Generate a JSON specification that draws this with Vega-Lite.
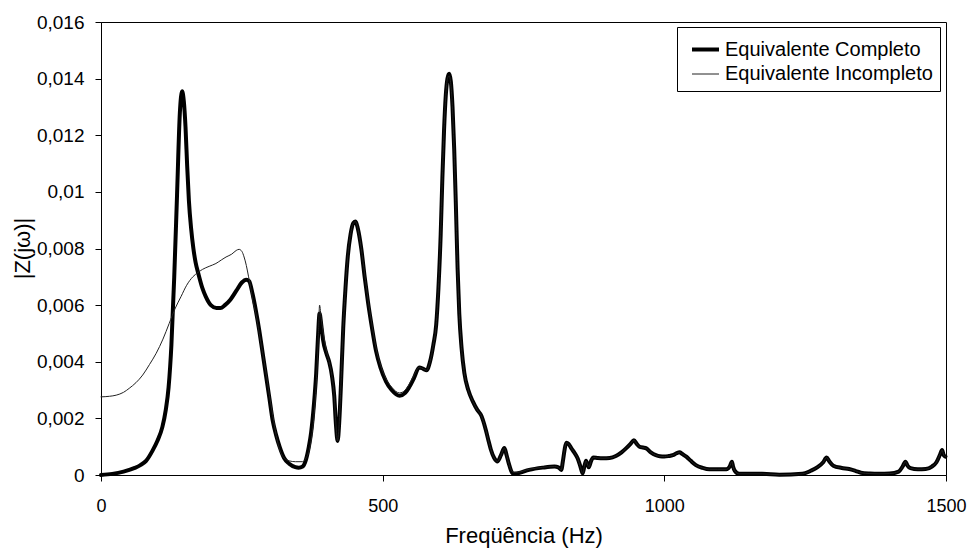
{
  "$schema": "https://vega.github.io/schema/vega-lite/v6.json",
  "width": 845,
  "height": 453,
  "autosize": {"type": "none"},
  "padding": {"left": 101, "top": 22, "right": 29, "bottom": 73},
  "background": "white",
  "config": {"view": {"stroke": "black", "strokeWidth": 1}, "font": "Liberation Sans"},
  "data": {"values": [
    {"f": 0, "z": 0, "s": "Equivalente Completo"},
    {"f": 20, "z": 0.00004, "s": "Equivalente Completo"},
    {"f": 40, "z": 0.00012, "s": "Equivalente Completo"},
    {"f": 60, "z": 0.00025, "s": "Equivalente Completo"},
    {"f": 70, "z": 0.00035, "s": "Equivalente Completo"},
    {"f": 80, "z": 0.0005, "s": "Equivalente Completo"},
    {"f": 92, "z": 0.00088, "s": "Equivalente Completo"},
    {"f": 100, "z": 0.0012, "s": "Equivalente Completo"},
    {"f": 109, "z": 0.0017, "s": "Equivalente Completo"},
    {"f": 115, "z": 0.0023, "s": "Equivalente Completo"},
    {"f": 120, "z": 0.0031, "s": "Equivalente Completo"},
    {"f": 125, "z": 0.0046, "s": "Equivalente Completo"},
    {"f": 130, "z": 0.007, "s": "Equivalente Completo"},
    {"f": 135, "z": 0.0099, "s": "Equivalente Completo"},
    {"f": 140, "z": 0.0128, "s": "Equivalente Completo"},
    {"f": 144, "z": 0.01355, "s": "Equivalente Completo"},
    {"f": 147, "z": 0.0132, "s": "Equivalente Completo"},
    {"f": 150, "z": 0.0123, "s": "Equivalente Completo"},
    {"f": 153, "z": 0.0109, "s": "Equivalente Completo"},
    {"f": 156, "z": 0.0097, "s": "Equivalente Completo"},
    {"f": 160, "z": 0.0087, "s": "Equivalente Completo"},
    {"f": 164, "z": 0.008, "s": "Equivalente Completo"},
    {"f": 168, "z": 0.0075, "s": "Equivalente Completo"},
    {"f": 173, "z": 0.0071, "s": "Equivalente Completo"},
    {"f": 180, "z": 0.0066, "s": "Equivalente Completo"},
    {"f": 186, "z": 0.0063, "s": "Equivalente Completo"},
    {"f": 195, "z": 0.006, "s": "Equivalente Completo"},
    {"f": 205, "z": 0.0059, "s": "Equivalente Completo"},
    {"f": 212, "z": 0.0059, "s": "Equivalente Completo"},
    {"f": 220, "z": 0.006, "s": "Equivalente Completo"},
    {"f": 230, "z": 0.0062, "s": "Equivalente Completo"},
    {"f": 240, "z": 0.0065, "s": "Equivalente Completo"},
    {"f": 250, "z": 0.0068, "s": "Equivalente Completo"},
    {"f": 258, "z": 0.0069, "s": "Equivalente Completo"},
    {"f": 263, "z": 0.00685, "s": "Equivalente Completo"},
    {"f": 269, "z": 0.0064, "s": "Equivalente Completo"},
    {"f": 275, "z": 0.0058, "s": "Equivalente Completo"},
    {"f": 281, "z": 0.0051, "s": "Equivalente Completo"},
    {"f": 287, "z": 0.0043, "s": "Equivalente Completo"},
    {"f": 293, "z": 0.0035, "s": "Equivalente Completo"},
    {"f": 299, "z": 0.0027, "s": "Equivalente Completo"},
    {"f": 305, "z": 0.0019, "s": "Equivalente Completo"},
    {"f": 311, "z": 0.0014, "s": "Equivalente Completo"},
    {"f": 317, "z": 0.001, "s": "Equivalente Completo"},
    {"f": 325, "z": 0.0006, "s": "Equivalente Completo"},
    {"f": 334, "z": 0.0004, "s": "Equivalente Completo"},
    {"f": 345, "z": 0.00028, "s": "Equivalente Completo"},
    {"f": 351, "z": 0.00026, "s": "Equivalente Completo"},
    {"f": 358, "z": 0.0003, "s": "Equivalente Completo"},
    {"f": 364, "z": 0.00055, "s": "Equivalente Completo"},
    {"f": 369, "z": 0.001, "s": "Equivalente Completo"},
    {"f": 373, "z": 0.0015, "s": "Equivalente Completo"},
    {"f": 378, "z": 0.0025, "s": "Equivalente Completo"},
    {"f": 382, "z": 0.0036, "s": "Equivalente Completo"},
    {"f": 385, "z": 0.0048, "s": "Equivalente Completo"},
    {"f": 388, "z": 0.0057, "s": "Equivalente Completo"},
    {"f": 391, "z": 0.0053, "s": "Equivalente Completo"},
    {"f": 394, "z": 0.0048, "s": "Equivalente Completo"},
    {"f": 400, "z": 0.0043, "s": "Equivalente Completo"},
    {"f": 405, "z": 0.004, "s": "Equivalente Completo"},
    {"f": 410, "z": 0.0035, "s": "Equivalente Completo"},
    {"f": 414, "z": 0.0028, "s": "Equivalente Completo"},
    {"f": 417, "z": 0.0018, "s": "Equivalente Completo"},
    {"f": 420, "z": 0.0012, "s": "Equivalente Completo"},
    {"f": 423, "z": 0.0019, "s": "Equivalente Completo"},
    {"f": 426, "z": 0.0032, "s": "Equivalente Completo"},
    {"f": 430, "z": 0.0052, "s": "Equivalente Completo"},
    {"f": 434, "z": 0.0066, "s": "Equivalente Completo"},
    {"f": 438, "z": 0.0077, "s": "Equivalente Completo"},
    {"f": 443, "z": 0.0085, "s": "Equivalente Completo"},
    {"f": 448, "z": 0.0089, "s": "Equivalente Completo"},
    {"f": 452, "z": 0.00895, "s": "Equivalente Completo"},
    {"f": 456, "z": 0.0087, "s": "Equivalente Completo"},
    {"f": 462, "z": 0.008, "s": "Equivalente Completo"},
    {"f": 468, "z": 0.007, "s": "Equivalente Completo"},
    {"f": 474, "z": 0.0061, "s": "Equivalente Completo"},
    {"f": 481, "z": 0.0052, "s": "Equivalente Completo"},
    {"f": 488, "z": 0.0044, "s": "Equivalente Completo"},
    {"f": 496, "z": 0.0038, "s": "Equivalente Completo"},
    {"f": 506, "z": 0.0033, "s": "Equivalente Completo"},
    {"f": 516, "z": 0.003, "s": "Equivalente Completo"},
    {"f": 530, "z": 0.0028, "s": "Equivalente Completo"},
    {"f": 540, "z": 0.0029, "s": "Equivalente Completo"},
    {"f": 547, "z": 0.0031, "s": "Equivalente Completo"},
    {"f": 555, "z": 0.0034, "s": "Equivalente Completo"},
    {"f": 565, "z": 0.0038, "s": "Equivalente Completo"},
    {"f": 572, "z": 0.00375, "s": "Equivalente Completo"},
    {"f": 578, "z": 0.0037, "s": "Equivalente Completo"},
    {"f": 584, "z": 0.004, "s": "Equivalente Completo"},
    {"f": 590, "z": 0.0046, "s": "Equivalente Completo"},
    {"f": 595, "z": 0.0053, "s": "Equivalente Completo"},
    {"f": 599, "z": 0.0066, "s": "Equivalente Completo"},
    {"f": 603, "z": 0.0085, "s": "Equivalente Completo"},
    {"f": 606, "z": 0.0105, "s": "Equivalente Completo"},
    {"f": 609, "z": 0.0122, "s": "Equivalente Completo"},
    {"f": 612, "z": 0.0134, "s": "Equivalente Completo"},
    {"f": 615, "z": 0.014, "s": "Equivalente Completo"},
    {"f": 618, "z": 0.01417, "s": "Equivalente Completo"},
    {"f": 621, "z": 0.0139, "s": "Equivalente Completo"},
    {"f": 624, "z": 0.013, "s": "Equivalente Completo"},
    {"f": 627, "z": 0.0115, "s": "Equivalente Completo"},
    {"f": 630, "z": 0.0095, "s": "Equivalente Completo"},
    {"f": 633, "z": 0.0073, "s": "Equivalente Completo"},
    {"f": 636, "z": 0.0057, "s": "Equivalente Completo"},
    {"f": 640, "z": 0.0045, "s": "Equivalente Completo"},
    {"f": 645, "z": 0.0036, "s": "Equivalente Completo"},
    {"f": 652, "z": 0.003, "s": "Equivalente Completo"},
    {"f": 660, "z": 0.0026, "s": "Equivalente Completo"},
    {"f": 668, "z": 0.0023, "s": "Equivalente Completo"},
    {"f": 675, "z": 0.0021, "s": "Equivalente Completo"},
    {"f": 683, "z": 0.0016, "s": "Equivalente Completo"},
    {"f": 688, "z": 0.0012, "s": "Equivalente Completo"},
    {"f": 692, "z": 0.0009, "s": "Equivalente Completo"},
    {"f": 698, "z": 0.0006, "s": "Equivalente Completo"},
    {"f": 704, "z": 0.00048, "s": "Equivalente Completo"},
    {"f": 710, "z": 0.0007, "s": "Equivalente Completo"},
    {"f": 716, "z": 0.00095, "s": "Equivalente Completo"},
    {"f": 720, "z": 0.0007, "s": "Equivalente Completo"},
    {"f": 724, "z": 0.0004, "s": "Equivalente Completo"},
    {"f": 728, "z": 0.00015, "s": "Equivalente Completo"},
    {"f": 732, "z": 0.00004, "s": "Equivalente Completo"},
    {"f": 740, "z": 0.00006, "s": "Equivalente Completo"},
    {"f": 760, "z": 0.00018, "s": "Equivalente Completo"},
    {"f": 784, "z": 0.00026, "s": "Equivalente Completo"},
    {"f": 805, "z": 0.0003, "s": "Equivalente Completo"},
    {"f": 812, "z": 0.00027, "s": "Equivalente Completo"},
    {"f": 817, "z": 0.00018, "s": "Equivalente Completo"},
    {"f": 820, "z": 0.0005, "s": "Equivalente Completo"},
    {"f": 823, "z": 0.0009, "s": "Equivalente Completo"},
    {"f": 826, "z": 0.00114, "s": "Equivalente Completo"},
    {"f": 830, "z": 0.0011, "s": "Equivalente Completo"},
    {"f": 835, "z": 0.00094, "s": "Equivalente Completo"},
    {"f": 840, "z": 0.0008, "s": "Equivalente Completo"},
    {"f": 846, "z": 0.00059, "s": "Equivalente Completo"},
    {"f": 851, "z": 0.0003, "s": "Equivalente Completo"},
    {"f": 855, "z": 0.00006, "s": "Equivalente Completo"},
    {"f": 858, "z": 0.0003, "s": "Equivalente Completo"},
    {"f": 861, "z": 0.0005, "s": "Equivalente Completo"},
    {"f": 864, "z": 0.00035, "s": "Equivalente Completo"},
    {"f": 866, "z": 0.00027, "s": "Equivalente Completo"},
    {"f": 870, "z": 0.0005, "s": "Equivalente Completo"},
    {"f": 874, "z": 0.00062, "s": "Equivalente Completo"},
    {"f": 882, "z": 0.0006, "s": "Equivalente Completo"},
    {"f": 891, "z": 0.00059, "s": "Equivalente Completo"},
    {"f": 903, "z": 0.0006, "s": "Equivalente Completo"},
    {"f": 914, "z": 0.00067, "s": "Equivalente Completo"},
    {"f": 924, "z": 0.0008, "s": "Equivalente Completo"},
    {"f": 932, "z": 0.00094, "s": "Equivalente Completo"},
    {"f": 940, "z": 0.0011, "s": "Equivalente Completo"},
    {"f": 946, "z": 0.00123, "s": "Equivalente Completo"},
    {"f": 951, "z": 0.0011, "s": "Equivalente Completo"},
    {"f": 956, "z": 0.001, "s": "Equivalente Completo"},
    {"f": 962, "z": 0.00097, "s": "Equivalente Completo"},
    {"f": 968, "z": 0.00094, "s": "Equivalente Completo"},
    {"f": 976, "z": 0.0008, "s": "Equivalente Completo"},
    {"f": 985, "z": 0.0007, "s": "Equivalente Completo"},
    {"f": 992, "z": 0.00066, "s": "Equivalente Completo"},
    {"f": 1000, "z": 0.00065, "s": "Equivalente Completo"},
    {"f": 1008, "z": 0.00067, "s": "Equivalente Completo"},
    {"f": 1015, "z": 0.0007, "s": "Equivalente Completo"},
    {"f": 1022, "z": 0.00077, "s": "Equivalente Completo"},
    {"f": 1027, "z": 0.0008, "s": "Equivalente Completo"},
    {"f": 1032, "z": 0.00074, "s": "Equivalente Completo"},
    {"f": 1039, "z": 0.00065, "s": "Equivalente Completo"},
    {"f": 1047, "z": 0.0005, "s": "Equivalente Completo"},
    {"f": 1056, "z": 0.00035, "s": "Equivalente Completo"},
    {"f": 1068, "z": 0.00025, "s": "Equivalente Completo"},
    {"f": 1080, "z": 0.0002, "s": "Equivalente Completo"},
    {"f": 1095, "z": 0.0002, "s": "Equivalente Completo"},
    {"f": 1110, "z": 0.0002, "s": "Equivalente Completo"},
    {"f": 1116, "z": 0.0003, "s": "Equivalente Completo"},
    {"f": 1120, "z": 0.00047, "s": "Equivalente Completo"},
    {"f": 1122, "z": 0.0003, "s": "Equivalente Completo"},
    {"f": 1125, "z": 0.00015, "s": "Equivalente Completo"},
    {"f": 1133, "z": 0.00004, "s": "Equivalente Completo"},
    {"f": 1174, "z": 0.00004, "s": "Equivalente Completo"},
    {"f": 1204, "z": 0.00001, "s": "Equivalente Completo"},
    {"f": 1245, "z": 0.00004, "s": "Equivalente Completo"},
    {"f": 1260, "z": 0.00015, "s": "Equivalente Completo"},
    {"f": 1272, "z": 0.00028, "s": "Equivalente Completo"},
    {"f": 1282, "z": 0.00045, "s": "Equivalente Completo"},
    {"f": 1288, "z": 0.00062, "s": "Equivalente Completo"},
    {"f": 1293, "z": 0.00048, "s": "Equivalente Completo"},
    {"f": 1300, "z": 0.00033, "s": "Equivalente Completo"},
    {"f": 1315, "z": 0.00025, "s": "Equivalente Completo"},
    {"f": 1328, "z": 0.00021, "s": "Equivalente Completo"},
    {"f": 1340, "z": 0.00014, "s": "Equivalente Completo"},
    {"f": 1349, "z": 0.00008, "s": "Equivalente Completo"},
    {"f": 1365, "z": 0.00005, "s": "Equivalente Completo"},
    {"f": 1381, "z": 0.00004, "s": "Equivalente Completo"},
    {"f": 1400, "z": 0.00005, "s": "Equivalente Completo"},
    {"f": 1416, "z": 0.00012, "s": "Equivalente Completo"},
    {"f": 1423, "z": 0.0003, "s": "Equivalente Completo"},
    {"f": 1428, "z": 0.00047, "s": "Equivalente Completo"},
    {"f": 1432, "z": 0.00032, "s": "Equivalente Completo"},
    {"f": 1437, "z": 0.00024, "s": "Equivalente Completo"},
    {"f": 1450, "z": 0.0002, "s": "Equivalente Completo"},
    {"f": 1464, "z": 0.00021, "s": "Equivalente Completo"},
    {"f": 1475, "z": 0.0003, "s": "Equivalente Completo"},
    {"f": 1483, "z": 0.00045, "s": "Equivalente Completo"},
    {"f": 1490, "z": 0.00075, "s": "Equivalente Completo"},
    {"f": 1493, "z": 0.00088, "s": "Equivalente Completo"},
    {"f": 1496, "z": 0.0007, "s": "Equivalente Completo"},
    {"f": 1499, "z": 0.00065, "s": "Equivalente Completo"},

    {"f": 0, "z": 0.00276, "s": "Equivalente Incompleto"},
    {"f": 15, "z": 0.00278, "s": "Equivalente Incompleto"},
    {"f": 27, "z": 0.00282, "s": "Equivalente Incompleto"},
    {"f": 40, "z": 0.00292, "s": "Equivalente Incompleto"},
    {"f": 50, "z": 0.00306, "s": "Equivalente Incompleto"},
    {"f": 62, "z": 0.00326, "s": "Equivalente Incompleto"},
    {"f": 74, "z": 0.00353, "s": "Equivalente Incompleto"},
    {"f": 86, "z": 0.0039, "s": "Equivalente Incompleto"},
    {"f": 98, "z": 0.0043, "s": "Equivalente Incompleto"},
    {"f": 110, "z": 0.0048, "s": "Equivalente Incompleto"},
    {"f": 121, "z": 0.00535, "s": "Equivalente Incompleto"},
    {"f": 132, "z": 0.0059, "s": "Equivalente Incompleto"},
    {"f": 142, "z": 0.0063, "s": "Equivalente Incompleto"},
    {"f": 152, "z": 0.0067, "s": "Equivalente Incompleto"},
    {"f": 163, "z": 0.007, "s": "Equivalente Incompleto"},
    {"f": 172, "z": 0.00715, "s": "Equivalente Incompleto"},
    {"f": 180, "z": 0.00726, "s": "Equivalente Incompleto"},
    {"f": 192, "z": 0.00737, "s": "Equivalente Incompleto"},
    {"f": 204, "z": 0.00747, "s": "Equivalente Incompleto"},
    {"f": 214, "z": 0.0076, "s": "Equivalente Incompleto"},
    {"f": 222, "z": 0.0077, "s": "Equivalente Incompleto"},
    {"f": 232, "z": 0.0078, "s": "Equivalente Incompleto"},
    {"f": 240, "z": 0.00793, "s": "Equivalente Incompleto"},
    {"f": 245, "z": 0.00797, "s": "Equivalente Incompleto"},
    {"f": 250, "z": 0.0079, "s": "Equivalente Incompleto"},
    {"f": 254, "z": 0.0077, "s": "Equivalente Incompleto"},
    {"f": 258, "z": 0.0074, "s": "Equivalente Incompleto"},
    {"f": 262, "z": 0.007, "s": "Equivalente Incompleto"},
    {"f": 266, "z": 0.0066, "s": "Equivalente Incompleto"},
    {"f": 269, "z": 0.0062, "s": "Equivalente Incompleto"},
    {"f": 275, "z": 0.0057, "s": "Equivalente Incompleto"},
    {"f": 281, "z": 0.005, "s": "Equivalente Incompleto"},
    {"f": 287, "z": 0.0043, "s": "Equivalente Incompleto"},
    {"f": 293, "z": 0.0036, "s": "Equivalente Incompleto"},
    {"f": 299, "z": 0.0028, "s": "Equivalente Incompleto"},
    {"f": 305, "z": 0.0021, "s": "Equivalente Incompleto"},
    {"f": 311, "z": 0.0014, "s": "Equivalente Incompleto"},
    {"f": 317, "z": 0.0009, "s": "Equivalente Incompleto"},
    {"f": 325, "z": 0.0006, "s": "Equivalente Incompleto"},
    {"f": 334, "z": 0.0005, "s": "Equivalente Incompleto"},
    {"f": 345, "z": 0.00047, "s": "Equivalente Incompleto"},
    {"f": 358, "z": 0.00047, "s": "Equivalente Incompleto"},
    {"f": 364, "z": 0.0006, "s": "Equivalente Incompleto"},
    {"f": 370, "z": 0.0009, "s": "Equivalente Incompleto"},
    {"f": 375, "z": 0.0015, "s": "Equivalente Incompleto"},
    {"f": 379, "z": 0.0023, "s": "Equivalente Incompleto"},
    {"f": 383, "z": 0.0036, "s": "Equivalente Incompleto"},
    {"f": 386, "z": 0.005, "s": "Equivalente Incompleto"},
    {"f": 388, "z": 0.006, "s": "Equivalente Incompleto"},
    {"f": 391, "z": 0.0055, "s": "Equivalente Incompleto"},
    {"f": 394, "z": 0.0051, "s": "Equivalente Incompleto"},
    {"f": 400, "z": 0.0044, "s": "Equivalente Incompleto"},
    {"f": 405, "z": 0.004, "s": "Equivalente Incompleto"},
    {"f": 410, "z": 0.0035, "s": "Equivalente Incompleto"},
    {"f": 414, "z": 0.0028, "s": "Equivalente Incompleto"},
    {"f": 417, "z": 0.0018, "s": "Equivalente Incompleto"},
    {"f": 420, "z": 0.0012, "s": "Equivalente Incompleto"},
    {"f": 423, "z": 0.0019, "s": "Equivalente Incompleto"},
    {"f": 426, "z": 0.0032, "s": "Equivalente Incompleto"},
    {"f": 430, "z": 0.0052, "s": "Equivalente Incompleto"},
    {"f": 434, "z": 0.0066, "s": "Equivalente Incompleto"},
    {"f": 438, "z": 0.0077, "s": "Equivalente Incompleto"},
    {"f": 443, "z": 0.0085, "s": "Equivalente Incompleto"},
    {"f": 448, "z": 0.0089, "s": "Equivalente Incompleto"},
    {"f": 452, "z": 0.00895, "s": "Equivalente Incompleto"},
    {"f": 456, "z": 0.0087, "s": "Equivalente Incompleto"},
    {"f": 462, "z": 0.008, "s": "Equivalente Incompleto"},
    {"f": 468, "z": 0.0071, "s": "Equivalente Incompleto"},
    {"f": 474, "z": 0.0062, "s": "Equivalente Incompleto"},
    {"f": 481, "z": 0.0053, "s": "Equivalente Incompleto"},
    {"f": 488, "z": 0.0045, "s": "Equivalente Incompleto"},
    {"f": 496, "z": 0.0039, "s": "Equivalente Incompleto"},
    {"f": 506, "z": 0.0034, "s": "Equivalente Incompleto"},
    {"f": 516, "z": 0.0031, "s": "Equivalente Incompleto"},
    {"f": 530, "z": 0.0029, "s": "Equivalente Incompleto"},
    {"f": 540, "z": 0.003, "s": "Equivalente Incompleto"},
    {"f": 547, "z": 0.0032, "s": "Equivalente Incompleto"},
    {"f": 555, "z": 0.0035, "s": "Equivalente Incompleto"},
    {"f": 565, "z": 0.0038, "s": "Equivalente Incompleto"},
    {"f": 572, "z": 0.00375, "s": "Equivalente Incompleto"},
    {"f": 578, "z": 0.0037, "s": "Equivalente Incompleto"},
    {"f": 584, "z": 0.004, "s": "Equivalente Incompleto"},
    {"f": 590, "z": 0.0046, "s": "Equivalente Incompleto"},
    {"f": 595, "z": 0.0053, "s": "Equivalente Incompleto"},
    {"f": 599, "z": 0.0066, "s": "Equivalente Incompleto"},
    {"f": 603, "z": 0.0085, "s": "Equivalente Incompleto"},
    {"f": 606, "z": 0.0105, "s": "Equivalente Incompleto"},
    {"f": 609, "z": 0.0122, "s": "Equivalente Incompleto"},
    {"f": 612, "z": 0.0134, "s": "Equivalente Incompleto"},
    {"f": 615, "z": 0.014, "s": "Equivalente Incompleto"},
    {"f": 618, "z": 0.0141, "s": "Equivalente Incompleto"},
    {"f": 621, "z": 0.0138, "s": "Equivalente Incompleto"},
    {"f": 624, "z": 0.0129, "s": "Equivalente Incompleto"},
    {"f": 627, "z": 0.0114, "s": "Equivalente Incompleto"},
    {"f": 630, "z": 0.0094, "s": "Equivalente Incompleto"},
    {"f": 633, "z": 0.0073, "s": "Equivalente Incompleto"},
    {"f": 636, "z": 0.0057, "s": "Equivalente Incompleto"},
    {"f": 640, "z": 0.0045, "s": "Equivalente Incompleto"},
    {"f": 645, "z": 0.0036, "s": "Equivalente Incompleto"},
    {"f": 652, "z": 0.003, "s": "Equivalente Incompleto"},
    {"f": 660, "z": 0.0026, "s": "Equivalente Incompleto"},
    {"f": 668, "z": 0.0023, "s": "Equivalente Incompleto"},
    {"f": 675, "z": 0.0021, "s": "Equivalente Incompleto"},
    {"f": 683, "z": 0.0016, "s": "Equivalente Incompleto"},
    {"f": 688, "z": 0.0012, "s": "Equivalente Incompleto"},
    {"f": 692, "z": 0.0009, "s": "Equivalente Incompleto"},
    {"f": 698, "z": 0.0006, "s": "Equivalente Incompleto"},
    {"f": 704, "z": 0.00048, "s": "Equivalente Incompleto"},
    {"f": 710, "z": 0.0007, "s": "Equivalente Incompleto"},
    {"f": 716, "z": 0.00095, "s": "Equivalente Incompleto"},
    {"f": 720, "z": 0.0007, "s": "Equivalente Incompleto"},
    {"f": 724, "z": 0.0004, "s": "Equivalente Incompleto"},
    {"f": 728, "z": 0.00018, "s": "Equivalente Incompleto"},
    {"f": 732, "z": 0.0001, "s": "Equivalente Incompleto"},
    {"f": 740, "z": 0.0001, "s": "Equivalente Incompleto"},
    {"f": 760, "z": 0.0002, "s": "Equivalente Incompleto"},
    {"f": 784, "z": 0.00027, "s": "Equivalente Incompleto"},
    {"f": 805, "z": 0.0003, "s": "Equivalente Incompleto"},
    {"f": 812, "z": 0.00027, "s": "Equivalente Incompleto"},
    {"f": 817, "z": 0.00018, "s": "Equivalente Incompleto"},
    {"f": 820, "z": 0.0005, "s": "Equivalente Incompleto"},
    {"f": 823, "z": 0.0009, "s": "Equivalente Incompleto"},
    {"f": 826, "z": 0.00114, "s": "Equivalente Incompleto"},
    {"f": 830, "z": 0.0011, "s": "Equivalente Incompleto"},
    {"f": 835, "z": 0.00094, "s": "Equivalente Incompleto"},
    {"f": 840, "z": 0.0008, "s": "Equivalente Incompleto"},
    {"f": 846, "z": 0.00059, "s": "Equivalente Incompleto"},
    {"f": 851, "z": 0.0003, "s": "Equivalente Incompleto"},
    {"f": 855, "z": 0.00006, "s": "Equivalente Incompleto"},
    {"f": 858, "z": 0.0003, "s": "Equivalente Incompleto"},
    {"f": 861, "z": 0.0005, "s": "Equivalente Incompleto"},
    {"f": 864, "z": 0.00035, "s": "Equivalente Incompleto"},
    {"f": 866, "z": 0.00027, "s": "Equivalente Incompleto"},
    {"f": 870, "z": 0.0005, "s": "Equivalente Incompleto"},
    {"f": 874, "z": 0.00062, "s": "Equivalente Incompleto"},
    {"f": 882, "z": 0.0006, "s": "Equivalente Incompleto"},
    {"f": 891, "z": 0.00059, "s": "Equivalente Incompleto"},
    {"f": 903, "z": 0.0006, "s": "Equivalente Incompleto"},
    {"f": 914, "z": 0.00067, "s": "Equivalente Incompleto"},
    {"f": 924, "z": 0.0008, "s": "Equivalente Incompleto"},
    {"f": 932, "z": 0.00094, "s": "Equivalente Incompleto"},
    {"f": 940, "z": 0.0011, "s": "Equivalente Incompleto"},
    {"f": 946, "z": 0.00123, "s": "Equivalente Incompleto"},
    {"f": 951, "z": 0.0011, "s": "Equivalente Incompleto"},
    {"f": 956, "z": 0.001, "s": "Equivalente Incompleto"},
    {"f": 962, "z": 0.00097, "s": "Equivalente Incompleto"},
    {"f": 968, "z": 0.00094, "s": "Equivalente Incompleto"},
    {"f": 976, "z": 0.0008, "s": "Equivalente Incompleto"},
    {"f": 985, "z": 0.0007, "s": "Equivalente Incompleto"},
    {"f": 992, "z": 0.00066, "s": "Equivalente Incompleto"},
    {"f": 1000, "z": 0.00065, "s": "Equivalente Incompleto"},
    {"f": 1008, "z": 0.00067, "s": "Equivalente Incompleto"},
    {"f": 1015, "z": 0.0007, "s": "Equivalente Incompleto"},
    {"f": 1022, "z": 0.00077, "s": "Equivalente Incompleto"},
    {"f": 1027, "z": 0.0008, "s": "Equivalente Incompleto"},
    {"f": 1032, "z": 0.00074, "s": "Equivalente Incompleto"},
    {"f": 1039, "z": 0.00065, "s": "Equivalente Incompleto"},
    {"f": 1047, "z": 0.0005, "s": "Equivalente Incompleto"},
    {"f": 1056, "z": 0.00035, "s": "Equivalente Incompleto"},
    {"f": 1068, "z": 0.00025, "s": "Equivalente Incompleto"},
    {"f": 1080, "z": 0.0002, "s": "Equivalente Incompleto"},
    {"f": 1095, "z": 0.0002, "s": "Equivalente Incompleto"},
    {"f": 1110, "z": 0.0002, "s": "Equivalente Incompleto"},
    {"f": 1116, "z": 0.0003, "s": "Equivalente Incompleto"},
    {"f": 1120, "z": 0.00047, "s": "Equivalente Incompleto"},
    {"f": 1122, "z": 0.0003, "s": "Equivalente Incompleto"},
    {"f": 1125, "z": 0.00015, "s": "Equivalente Incompleto"},
    {"f": 1133, "z": 0.00004, "s": "Equivalente Incompleto"},
    {"f": 1174, "z": 0.00004, "s": "Equivalente Incompleto"},
    {"f": 1204, "z": 0.00001, "s": "Equivalente Incompleto"},
    {"f": 1245, "z": 0.00004, "s": "Equivalente Incompleto"},
    {"f": 1260, "z": 0.00015, "s": "Equivalente Incompleto"},
    {"f": 1272, "z": 0.00028, "s": "Equivalente Incompleto"},
    {"f": 1282, "z": 0.00045, "s": "Equivalente Incompleto"},
    {"f": 1288, "z": 0.00062, "s": "Equivalente Incompleto"},
    {"f": 1293, "z": 0.00048, "s": "Equivalente Incompleto"},
    {"f": 1300, "z": 0.00033, "s": "Equivalente Incompleto"},
    {"f": 1315, "z": 0.00025, "s": "Equivalente Incompleto"},
    {"f": 1328, "z": 0.00021, "s": "Equivalente Incompleto"},
    {"f": 1340, "z": 0.00014, "s": "Equivalente Incompleto"},
    {"f": 1349, "z": 0.00008, "s": "Equivalente Incompleto"},
    {"f": 1365, "z": 0.00005, "s": "Equivalente Incompleto"},
    {"f": 1381, "z": 0.00004, "s": "Equivalente Incompleto"},
    {"f": 1400, "z": 0.00005, "s": "Equivalente Incompleto"},
    {"f": 1416, "z": 0.00012, "s": "Equivalente Incompleto"},
    {"f": 1423, "z": 0.0003, "s": "Equivalente Incompleto"},
    {"f": 1428, "z": 0.00047, "s": "Equivalente Incompleto"},
    {"f": 1432, "z": 0.00032, "s": "Equivalente Incompleto"},
    {"f": 1437, "z": 0.00024, "s": "Equivalente Incompleto"},
    {"f": 1450, "z": 0.0002, "s": "Equivalente Incompleto"},
    {"f": 1464, "z": 0.00021, "s": "Equivalente Incompleto"},
    {"f": 1475, "z": 0.0003, "s": "Equivalente Incompleto"},
    {"f": 1483, "z": 0.00045, "s": "Equivalente Incompleto"},
    {"f": 1490, "z": 0.00075, "s": "Equivalente Incompleto"},
    {"f": 1493, "z": 0.00088, "s": "Equivalente Incompleto"},
    {"f": 1496, "z": 0.0007, "s": "Equivalente Incompleto"},
    {"f": 1499, "z": 0.00065, "s": "Equivalente Incompleto"}
  ]},
  "mark": {"type": "line", "interpolate": "monotone", "strokeCap": "round", "strokeJoin": "round"},
  "encoding": {
    "x": {
      "field": "f", "type": "quantitative",
      "scale": {"domain": [0, 1500], "nice": false, "zero": false},
      "axis": {
        "title": "Freqüência (Hz)", "values": [0, 500, 1000, 1500], "format": "d",
        "grid": false, "domainColor": "black", "tickColor": "black", "tickSize": 6,
        "labelFont": "Liberation Sans", "labelFontSize": 18, "labelColor": "black",
        "labelBaseline": "alphabetic", "labelPadding": 30, "labelFlush": false,
        "titleFont": "Liberation Sans", "titleFontSize": 22, "titleFontWeight": "normal", "titleColor": "black",
        "titleBaseline": "alphabetic", "titleY": 67
      }
    },
    "y": {
      "field": "z", "type": "quantitative",
      "scale": {"domain": [0, 0.016], "nice": false},
      "axis": {
        "title": "|Z(jω)|",
        "values": [0, 0.002, 0.004, 0.006, 0.008, 0.01, 0.012, 0.014, 0.016],
        "labelExpr": "replace(format(datum.value, '.3~f'), '.', ',')",
        "grid": false, "domainColor": "black", "tickColor": "black", "tickSize": 6,
        "labelFont": "Liberation Sans", "labelFontSize": 19, "labelColor": "black",
        "labelPadding": 11, "labelFlush": false,
        "titleFont": "Liberation Sans", "titleFontSize": 22, "titleFontWeight": "normal", "titleColor": "black",
        "titleAngle": -90, "titleBaseline": "middle", "titleAlign": "center", "titleX": -79, "titleY": 226
      }
    },
    "color": {
      "field": "s", "type": "nominal",
      "scale": {"domain": ["Equivalente Completo", "Equivalente Incompleto"], "range": ["#000000", "#222222"]},
      "legend": {
        "title": null, "orient": "none", "legendX": 576, "legendY": 5,
        "strokeColor": "black", "fillColor": "white", "padding": 7,
        "symbolType": "stroke", "symbolSize": 729, "symbolOffset": 6, "labelFont": "Liberation Sans", "labelFontSize": 20,
        "labelColor": "black", "labelOffset": 4, "rowPadding": -2, "cornerRadius": 0, "labelLimit": 0
      }
    },
    "strokeWidth": {
      "field": "s", "type": "ordinal",
      "scale": {"domain": ["Equivalente Completo", "Equivalente Incompleto"], "range": [4, 1]},
      "legend": {
        "title": null, "orient": "none", "legendX": 576, "legendY": 5,
        "strokeColor": "black", "fillColor": "white", "padding": 7,
        "symbolType": "stroke", "symbolSize": 729, "symbolOffset": 6, "labelFont": "Liberation Sans", "labelFontSize": 20,
        "labelColor": "black", "labelOffset": 4, "rowPadding": -2, "cornerRadius": 0, "labelLimit": 0
      }
    }
  }
}
